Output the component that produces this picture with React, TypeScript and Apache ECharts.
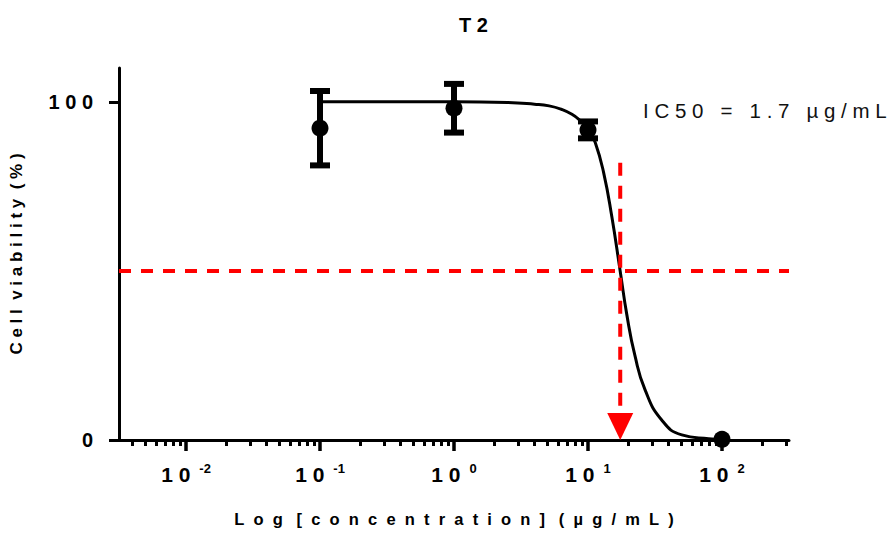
import React, { useEffect, useRef } from "react";
import * as echarts from "echarts";

// ---- data ----
const concentrations = [0.1, 1, 10, 100]; // µg/mL
const viabilityMean = [92.2, 98.1, 91.7, 0.2];
const viabilityErr = [11, 7.2, 2.5, 0];

// fitted curve (log10 concentration, viability %)
const fitLogConc = [-1, 0, 0.4, 0.6, 0.71, 0.8, 0.88, 0.95, 1.0, 1.054, 1.117, 1.178, 1.24, 1.29, 1.35, 1.426, 1.55, 1.7, 1.9, 2.0];
const fitViability = [100, 100, 99.8, 99.3, 98.8, 97.8, 96.3, 94.2, 92.3, 88, 79, 66, 50, 37, 25, 14.8, 5.9, 1.5, 0.4, 0.2];

const ic50Marker = 17.4; // µg/mL, where the red arrow falls
const halfViability = 50;
const arrowTopValue = 82;
const arrowHeadTopValue = 8;

const xTickExponents = [-2, -1, 0, 1, 2];
const yTickValues = [0, 100];

const titleText = "T\u00A02";
const ic50Label = "IC50 = 1.7 µg/mL";
const xAxisTitle = "Log [concentration] (µg/mL)";
const yAxisTitle = "Cell viability (%)";

const FONT = 'Arial, "Liberation Sans", sans-serif';

function spaced(s: string, inner: number, word: number): string {
  const words = s.split(" ");
  const innerSep = "\u00A0".repeat(inner);
  const wordSep = "\u00A0".repeat(word);
  return words.map((w) => Array.from(w).join(innerSep)).join(wordSep);
}

export default function App() {
  const ref = useRef<HTMLDivElement>(null);

  useEffect(() => {
    if (!ref.current) return;
    const chart = echarts.init(ref.current, null, { renderer: "svg" });

    const xMin = -2.5;
    const xMax = 2.5;
    const minorTicks: number[] = [];
    for (let n = -3; n <= 2; n++) {
      for (let k = 2; k <= 9; k++) {
        const v = Math.log10(k * Math.pow(10, n));
        if (v > xMin && v < xMax) minorTicks.push(v);
      }
    }

    const points = concentrations.map((c, i) => [Math.log10(c), viabilityMean[i]]);
    const errData = concentrations
      .map((c, i) => [Math.log10(c), viabilityMean[i] - viabilityErr[i], viabilityMean[i] + viabilityErr[i], viabilityErr[i]])
      .filter((d) => d[3] > 0);
    const curve = fitLogConc.map((x, i) => [x, fitViability[i]]);

    const option: any = {
      animation: false,
      backgroundColor: "#fff",
      grid: { left: 116, right: 107, top: 68, bottom: 93 },
      graphic: [
        {
          type: "text",
          left: 459,
          top: 15,
          style: {
            text: titleText,
            fontSize: 20,
            fontWeight: "bold",
            fontFamily: FONT,
            fill: "#000",
            textAlign: "center",
            textVerticalAlign: "middle",
          },
        },
        {
          type: "text",
          x: 643,
          y: 110,
          style: {
            text: spaced(ic50Label, 1, 3),
            fontSize: 20.5,
            fontFamily: FONT,
            fill: "#111",
            textVerticalAlign: "middle",
          },
        },
      ],
      xAxis: [
        {
          type: "value",
          position: "bottom",
          min: xMin,
          max: xMax,
          name: spaced(xAxisTitle, 2, 3),
          nameLocation: "middle",
          nameGap: 70,
          nameTextStyle: { fontSize: 16.5, fontWeight: "bold", fontFamily: FONT, color: "#000" },
          axisLine: { show: true, onZero: false, lineStyle: { color: "#000", width: 3 } },
          axisTick: { show: true, customValues: xTickExponents, length: 11, lineStyle: { color: "#000", width: 3.5 } },
          axisLabel: {
            customValues: xTickExponents,
            margin: 22,
            formatter: (v: number) => `{b|1\u00A00}{s|${Math.round(v)}}`,
            rich: {
              b: { fontSize: 21, fontWeight: "bold", fontFamily: FONT, color: "#000", lineHeight: 24 },
              s: {
                fontSize: 13,
                fontWeight: "bold",
                fontFamily: FONT,
                color: "#000",
                lineHeight: 14,
                verticalAlign: "top",
                padding: [0, 0, 0, 9],
              },
            },
          },
          splitLine: { show: false },
        },
        {
          type: "value",
          position: "bottom",
          min: xMin,
          max: xMax,
          axisLine: { show: false, onZero: false },
          axisTick: { show: true, customValues: minorTicks, length: 6, lineStyle: { color: "#000", width: 3 } },
          axisLabel: { show: false },
          splitLine: { show: false },
        },
      ],
      yAxis: {
        type: "value",
        min: 0,
        max: 110,
        name: spaced(yAxisTitle, 1, 2),
        nameLocation: "middle",
        nameGap: 94,
        nameTextStyle: { fontSize: 17, fontWeight: "bold", fontFamily: FONT, color: "#000" },
        axisLine: { show: true, onZero: false, lineStyle: { color: "#000", width: 3 } },
        axisTick: { show: true, customValues: yTickValues, length: 10, lineStyle: { color: "#000", width: 3 } },
        axisLabel: {
          customValues: yTickValues,
          margin: 26,
          formatter: (v: number) => String(v).split("").join("\u00A0"),
          fontSize: 20,
          fontWeight: "bold",
          fontFamily: FONT,
          color: "#000",
        },
        splitLine: { show: false },
      },
      series: [
        {
          type: "line",
          data: curve,
          smooth: true,
          showSymbol: false,
          symbol: "none",
          lineStyle: { color: "#000", width: 3 },
          z: 2,
        },
        {
          type: "custom",
          data: errData,
          z: 3,
          renderItem: (params: any, api: any) => {
            const x = api.value(0);
            const lo = api.coord([x, api.value(1)]);
            const hi = api.coord([x, api.value(2)]);
            const cap = 10;
            const st = { stroke: "#000", lineWidth: 6 };
            return {
              type: "group",
              children: [
                { type: "line", shape: { x1: lo[0], y1: lo[1], x2: hi[0], y2: hi[1] }, style: st },
                { type: "line", shape: { x1: lo[0] - cap, y1: lo[1], x2: lo[0] + cap, y2: lo[1] }, style: st },
                { type: "line", shape: { x1: hi[0] - cap, y1: hi[1], x2: hi[0] + cap, y2: hi[1] }, style: st },
              ],
            };
          },
        },
        {
          type: "scatter",
          data: points,
          symbol: "circle",
          symbolSize: 17,
          itemStyle: { color: "#000", opacity: 1 },
          z: 4,
        },
        {
          type: "line",
          data: [
            [xMin, halfViability],
            [xMax, halfViability],
          ],
          showSymbol: false,
          symbol: "none",
          lineStyle: { color: "#ff0000", width: 4, type: [12, 10] },
          z: 5,
        },
        {
          type: "custom",
          data: [[Math.log10(ic50Marker), arrowTopValue, arrowHeadTopValue, 0]],
          z: 6,
          renderItem: (params: any, api: any) => {
            const x = api.value(0);
            const top = api.coord([x, api.value(1)]);
            const headTop = api.coord([x, api.value(2)]);
            const tip = api.coord([x, api.value(3)]);
            const half = 13;
            return {
              type: "group",
              children: [
                {
                  type: "line",
                  shape: { x1: top[0], y1: top[1], x2: headTop[0], y2: headTop[1] },
                  style: { stroke: "#ff0000", lineWidth: 4, lineDash: [13, 10] },
                },
                {
                  type: "polygon",
                  shape: {
                    points: [
                      [headTop[0] - half, headTop[1]],
                      [headTop[0] + half, headTop[1]],
                      [tip[0], tip[1]],
                    ],
                  },
                  style: { fill: "#ff0000" },
                },
              ],
            };
          },
        },
      ],
    };

    chart.setOption(option);
    return () => chart.dispose();
  }, []);

  return (
    <div
      ref={ref}
      style={{ position: "fixed", left: 0, top: 0, width: 896, height: 533, background: "#fff" }}
    />
  );
}
